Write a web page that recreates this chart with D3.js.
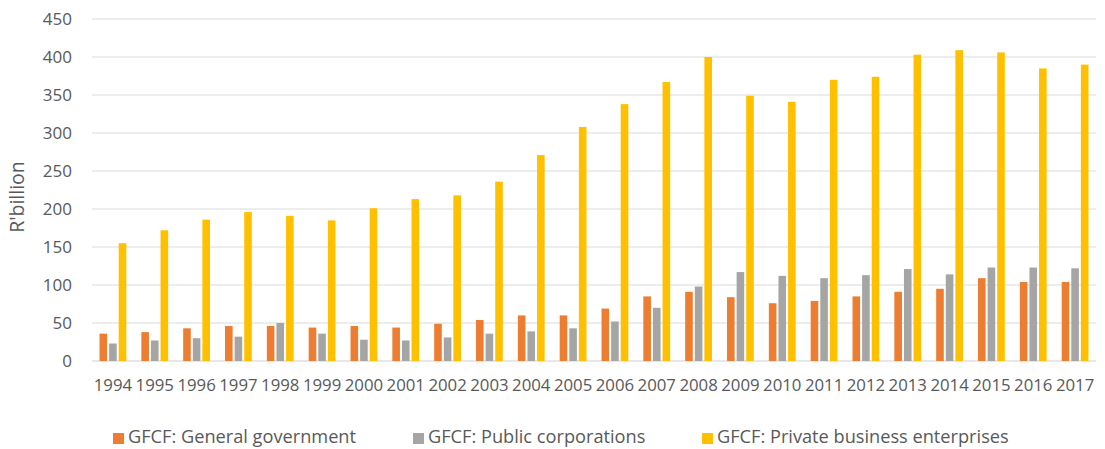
<!DOCTYPE html>
<html><head><meta charset="utf-8">
<script src="https://cdn.jsdelivr.net/npm/d3@7"></script>
<style>body{margin:0;background:#fff}svg{display:block}text{font-family:"Open Sans",sans-serif;fill:#595959}</style>
</head><body><div id="chart"></div>
<script>
const years = ["1994","1995","1996","1997","1998","1999","2000","2001","2002","2003","2004","2005","2006","2007","2008","2009","2010","2011","2012","2013","2014","2015","2016","2017"];
const generalGov = [36,38,43,46,46,44,46,44,49,54,60,60,69,85,91,84,76,79,85,91,95,109,104,104];
const publicCorp = [23,27,30,32,50,36,28,27,31,36,39,43,52,70,98,117,112,109,113,121,114,123,123,122];
const privateBiz = [155,172,186,196,191,185,201,213,218,236,271,308,338,367,400,349,341,370,374,403,409,406,385,390];
const yTicks = [0,50,100,150,200,250,300,350,400,450];
const seriesNames = ["GFCF: General government","GFCF: Public corporations","GFCF: Private business enterprises"];
const seriesColors = ["#ED7D31","#A5A5A5","#FFC000"];

const W=1105,H=449, mLeft=92, mRight=1096, mTop=19, mBottom=361;
const svg=d3.select("#chart").append("svg").attr("width",W).attr("height",H);
const x=d3.scaleBand().domain(years).range([mLeft,mRight]).padding(0);
const y=d3.scaleLinear().domain([0,450]).range([mBottom,mTop]);
const series=[generalGov,publicCorp,privateBiz];

// grid
svg.append("g").selectAll("line").data(yTicks).join("line")
  .attr("x1",mLeft).attr("x2",mRight).attr("y1",d=>y(d)).attr("y2",d=>y(d))
  .attr("stroke",d=>d===0?"#D0D0D0":"#DCDCDC").attr("stroke-width",1.2);

// y axis labels
const yAxis=d3.axisLeft(y).tickValues(yTicks).tickSize(0).tickPadding(20);
const ga=svg.append("g").attr("transform",`translate(${mLeft},0)`).call(yAxis);
ga.select(".domain").remove();
ga.selectAll("text").style("font-size","17px").attr("fill","#595959").attr("font-family","Open Sans");

// x axis labels
const xAxis=d3.axisBottom(x).tickSize(0).tickPadding(18);
const gx=svg.append("g").attr("transform",`translate(0,${mBottom})`).call(xAxis);
gx.select(".domain").remove();
gx.selectAll("text").style("font-size","16.8px").attr("fill","#595959").attr("font-family","Open Sans");

// bars
const step=9.6, bw=7.6;
series.forEach((vals,i)=>{
  svg.append("g").selectAll("rect").data(vals).join("rect")
    .attr("x",(d,j)=>x(years[j])+x.bandwidth()/2+(i-1)*step-bw/2)
    .attr("width",bw)
    .attr("y",d=>y(d)).attr("height",d=>y(0)-y(d))
    .attr("fill",seriesColors[i]);
});

// y title
svg.append("text").attr("transform","translate(17,197) rotate(-90)")
  .attr("text-anchor","middle").attr("dy","0.35em").style("font-size","19.5px").text("R'billion");

// legend
const legX=[113,413,702];
const lg=svg.append("g");
seriesNames.forEach((n,i)=>{
  lg.append("rect").attr("x",legX[i]).attr("y",433).attr("width",11).attr("height",11).attr("fill",seriesColors[i]);
  lg.append("text").attr("x",legX[i]+15).attr("y",437).attr("dy","0.35em").style("font-size","18.2px").text(n);
});
</script></body></html>
